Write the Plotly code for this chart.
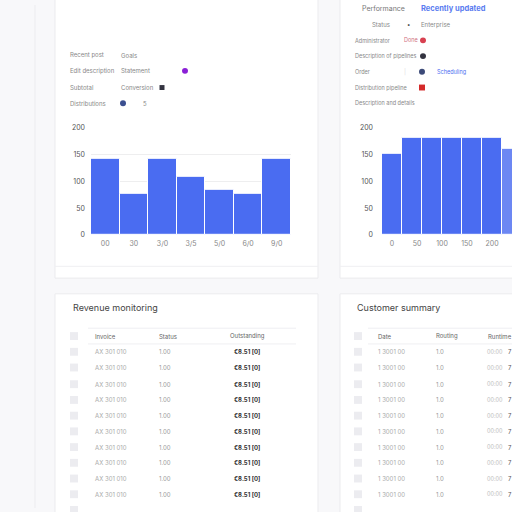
import plotly.graph_objects as go

W, H = 512, 512

# ---------------- data ----------------
left_categories = ["00", "30", "3/0", "3/5", "5/0", "6/0", "9/0"]
left_values = [143, 76, 143, 109, 85, 76, 143]

right_x = [0, 40, 80, 120, 160, 200, 240]
right_values = [152, 181, 181, 181, 181, 181, 161]
right_ticks = [0, 50, 100, 150, 200]
y_ticks = [0, 50, 100, 150, 200]

left_info_labels = ["Recent post", "Edit description", "Subtotal", "Distributions"]
left_info_values = ["Goals", "Statement", "Conversion", ""]

right_info_labels = ["Status", "Administrator", "Description of pipelines", "Order",
                     "Distribution pipeline", "Description and details"]
right_info_values = ["Enterprise", "Done", "", "Scheduling", "", ""]

inv_headers = ["Invoice", "Status", "Outstanding"]
inv_ids = ["AX 301 010", "AX 301 010", "AX 301 010", "AX 301 010", "AX 301 010",
           "AX 301 010", "AX 301 010", "AX 301 010", "AX 301 010", "AX 301 010"]
inv_status = ["1.00", "1.00", "1.00", "1.00", "1.00", "1.00", "1.00", "1.00", "1.00", "1.00"]
inv_amounts = ["€8.51 [0]", "€8.51 [0]", "€8.51 [0]", "€8.51 [0]", "€8.51 [0]",
               "€8.51 [0]", "€8.51 [0]", "€8.51 [0]", "€8.51 [0]", "€8.51 [0]"]

cust_headers = ["Date", "Routing", "Runtime"]
cust_dates = ["1 3001 00", "1 3001 00", "1 3001 00", "1 3001 00", "1 3001 00",
              "1 3001 00", "1 3001 00", "1 3001 00", "1 3001 00", "1 3001 00"]
cust_routing = ["1.0", "1.0", "1.0", "1.0", "1.0", "1.0", "1.0", "1.0", "1.0", "1.0"]
cust_runtime = ["00:00", "00:00", "00:00", "00:00", "00:00", "00:00", "00:00", "00:00", "00:00", "00:00"]
cust_flag = ["7", "7", "7", "7", "7", "7", "7", "7", "7", "7"]

# ---------------- helpers ----------------
def px(x):
    return x / W

def py(y):
    return 1 - y / H

FONT = "Inter, Roboto, sans-serif"
BLUE = "#4a6cf1"

shapes = []
annotations = []

def card(x0, y0, x1, y1):
    shapes.append(dict(type="rect", xref="paper", yref="paper", layer="below",
                       x0=px(x0), x1=px(x1), y0=py(y1), y1=py(y0),
                       fillcolor="#ffffff", line=dict(color="#ebebee", width=1)))

def hline(x0, x1, y, color="#efeff2"):
    shapes.append(dict(type="line", xref="paper", yref="paper", layer="below",
                       x0=px(x0), x1=px(x1), y0=py(y), y1=py(y),
                       line=dict(color=color, width=1)))

def text(x, y, s, size=6, color="#888", anchor="left", bold=False):
    if bold:
        s = "<b>" + s + "</b>"
    annotations.append(dict(xref="paper", yref="paper", x=px(x), y=py(y), text=s,
                            showarrow=False, xanchor=anchor, yanchor="middle",
                            font=dict(family=FONT, size=size, color=color)))

def dot(x, y, color, r=3, square=False):
    shapes.append(dict(type="rect" if square else "circle", xref="paper", yref="paper",
                       x0=px(x - r), x1=px(x + r), y0=py(y + r), y1=py(y - r),
                       fillcolor=color, line=dict(width=0)))

def checkbox(x, y):
    shapes.append(dict(type="rect", xref="paper", yref="paper",
                       x0=px(x - 4), x1=px(x + 4), y0=py(y + 4), y1=py(y - 4),
                       fillcolor="#ececf0", line=dict(width=0)))

# ---------------- background structure ----------------
shapes.append(dict(type="line", xref="paper", yref="paper", layer="below",
                   x0=px(35), x1=px(35), y0=0, y1=1, line=dict(color="#ececef", width=1)))
card(55, -10, 318, 278)
card(340, -10, 530, 278)
hline(55, 318, 266)
hline(340, 512, 266)
card(55, 294, 318, 530)
card(340, 294, 530, 530)

# ---------------- left top card info ----------------
rows_y = [51, 67, 84, 100]
for i, lab in enumerate(left_info_labels):
    text(68, rows_y[i], lab)
    if left_info_values[i]:
        text(119, rows_y[i], left_info_values[i])
dot(185, 67, "#8a1fd6")
dot(162, 84, "#333340", r=2.5, square=True)
dot(123, 100, "#3b4f90")
text(141, 100, "5")

# ---------------- right top card info ----------------
text(407, 4, "Performance", size=7, color="#777", anchor="right")
text(419, 4, "Recently updated", size=7.5, color="#5a7cf0", bold=True)
text(370, 20, right_info_labels[0])
text(405, 20, "•", color="#333")
text(419, 20, right_info_values[0])
text(353, 36, right_info_labels[1], size=5.5)
text(402, 36, right_info_values[1], color="#d07080", size=5.5)
dot(423, 36, "#d84050")
text(353, 52, right_info_labels[2], size=5.5)
dot(423, 52, "#333340")
text(353, 68, right_info_labels[3], size=5.5)
text(402, 68, "|", color="#ddd")
dot(422, 68, "#3c4a78")
text(435, 68, right_info_values[3], color="#4a6cf1", size=5.5)
text(353, 84, right_info_labels[4], size=5.5)
dot(422, 84, "#d42a2a", r=3, square=True)
text(353, 100, right_info_labels[5], size=5.5)

# ---------------- bottom tables ----------------
row_y = [353, 369, 386, 402, 418, 434, 450, 466, 482, 498]

text(71, 308, "Revenue monitoring", size=9, color="#444")
hline(88, 296, 329)
hline(88, 296, 345)
checkbox(74, 337)
text(93, 337, inv_headers[0], color="#666")
text(157, 337, inv_headers[1], color="#666")
text(247, 337, inv_headers[2], color="#666", anchor="center")
for i, y in enumerate(row_y):
    checkbox(74, y)
    text(93, y, inv_ids[i], color="#aaa")
    text(157, y, inv_status[i], color="#999")
    text(247, y, inv_amounts[i], color="#333", anchor="center", bold=True)
checkbox(74, 514)

text(355, 308, "Customer summary", size=9, color="#444")
hline(368, 512, 329)
hline(368, 512, 345)
checkbox(358, 337)
text(376, 337, cust_headers[0], color="#666")
text(434, 337, cust_headers[1], color="#666")
text(486, 337, cust_headers[2], color="#666")
for i, y in enumerate(row_y):
    checkbox(358, y)
    text(376, y, cust_dates[i], color="#aaa")
    text(434, y, cust_routing[i], color="#999")
    text(485, y, cust_runtime[i], color="#bbb", size=5.5)
    text(506, y, cust_flag[i], color="#555")
checkbox(358, 514)

# ---------------- charts ----------------
fig = go.Figure()
fig.add_trace(go.Bar(x=left_categories, y=left_values, marker=dict(color=BLUE, line=dict(color="#ffffff", width=1)),
                     xaxis="x", yaxis="y", showlegend=False))
right_colors = [BLUE] * (len(right_values) - 1) + ["#6c87f3"]
fig.add_trace(go.Bar(x=right_x, y=right_values, width=40,
                     marker=dict(color=right_colors, line=dict(color="#ffffff", width=1)),
                     xaxis="x2", yaxis="y2", showlegend=False))

tickfont = dict(family=FONT, size=7, color="#555")
xtickfont = dict(family=FONT, size=7, color="#888")
fig.update_layout(
    width=W, height=H, margin=dict(l=0, r=0, t=0, b=0),
    paper_bgcolor="#f8f8fa", plot_bgcolor="rgba(0,0,0,0)",
    bargap=0,
    xaxis=dict(domain=[px(91), px(291)], anchor="y", showgrid=False, showline=False,
               ticks="", tickfont=xtickfont, fixedrange=True, ticklabelstandoff=3),
    yaxis=dict(domain=[py(234), py(125)], anchor="x", range=[0, 200], tickvals=y_ticks,
               gridcolor="#eeeeef", zeroline=False, showline=False, tickfont=tickfont,
               ticklabelstandoff=5),
    xaxis2=dict(domain=[px(382), 1.0], anchor="y2", range=[-20, 240], tickvals=right_ticks,
                showgrid=False, showline=False, zeroline=False, tickfont=xtickfont,
                ticklabelstandoff=3),
    yaxis2=dict(domain=[py(234), py(125)], anchor="x2", range=[0, 200], tickvals=y_ticks,
                gridcolor="#eeeeef", zeroline=False, showline=False, tickfont=tickfont,
                ticklabelstandoff=8),
    shapes=shapes,
    annotations=annotations,
    font=dict(family=FONT),
)

fig.write_html("out.html")
